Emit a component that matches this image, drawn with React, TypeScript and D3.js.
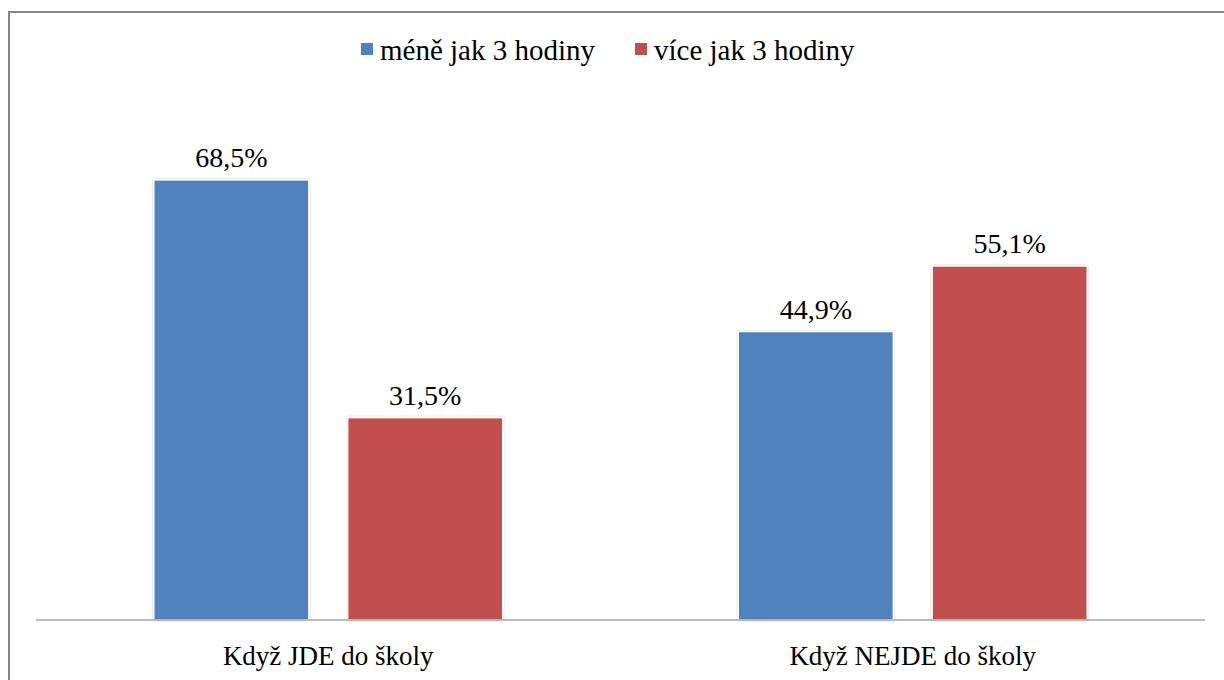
import React, { useEffect, useRef } from "react";
import * as d3 from "d3";

const categories = ["Když JDE do školy", "Když NEJDE do školy"];
const seriesNames = ["méně jak 3 hodiny", "více jak 3 hodiny"];
const lessThan3 = [68.5, 44.9];
const moreThan3 = [31.5, 55.1];
const colors = ["#4F81BD", "#C0504D"];

const W = 1224;
const H = 680;
const margin = { top: 106, right: 19, bottom: 60, left: 36 };

const App = () => {
  const ref = useRef<SVGSVGElement | null>(null);

  useEffect(() => {
    const svg = d3.select(ref.current);
    svg.selectAll("*").remove();

    const font = "Liberation Serif, Times New Roman, Times, DejaVu Serif, serif";
    const innerH = H - margin.top - margin.bottom;

    // frame
    svg
      .append("rect")
      .attr("x", 9)
      .attr("y", 12)
      .attr("width", W + 10)
      .attr("height", H + 10)
      .attr("fill", "#fff")
      .attr("stroke", "#868686")
      .attr("stroke-width", 2);

    const defs = svg.append("defs");
    const f = defs
      .append("filter")
      .attr("id", "shadow")
      .attr("x", "-10%")
      .attr("y", "-10%")
      .attr("width", "120%")
      .attr("height", "120%");
    f.append("feDropShadow")
      .attr("dx", 0)
      .attr("dy", 0)
      .attr("stdDeviation", 1.2)
      .attr("flood-color", "#000")
      .attr("flood-opacity", 0.25);

    const g = svg
      .append("g")
      .attr("transform", `translate(${margin.left},${margin.top})`);

    const x0 = d3
      .scaleBand()
      .domain(categories)
      .range([0, W - margin.left - margin.right]);

    const x1 = d3
      .scaleBand()
      .domain(seriesNames)
      .range([0, 349])
      .paddingInner(0.2);

    const y = d3.scaleLinear().domain([0, 80]).range([innerH, 0]);

    const rows = categories.map((c, i) => ({
      cat: c,
      vals: [lessThan3[i], moreThan3[i]],
    }));

    const groups = g
      .selectAll(".grp")
      .data(rows)
      .enter()
      .append("g")
      .attr(
        "transform",
        (d) => `translate(${x0(d.cat)! + x0.bandwidth() / 2 - 349 / 2},0)`
      );

    groups
      .selectAll("rect")
      .data((d) => d.vals.map((v, j) => ({ v, j })))
      .enter()
      .append("rect")
      .attr("x", (d) => x1(seriesNames[d.j])!)
      .attr("y", (d) => y(d.v))
      .attr("width", x1.bandwidth())
      .attr("height", (d) => innerH - y(d.v))
      .attr("fill", (d) => colors[d.j])
      .attr("stroke", "#fff")
      .attr("stroke-width", 1.5)
      .attr("filter", "url(#shadow)");

    groups
      .selectAll("text")
      .data((d) => d.vals.map((v, j) => ({ v, j })))
      .enter()
      .append("text")
      .attr("x", (d) => x1(seriesNames[d.j])! + x1.bandwidth() / 2)
      .attr("y", (d) => y(d.v) - 13)
      .attr("text-anchor", "middle")
      .attr("font-family", font)
      .attr("font-size", 28)
      .attr("fill", "#000")
      .text((d) => d.v.toFixed(1).replace(".", ",") + "%");

    // baseline
    g.append("line")
      .attr("x1", 0)
      .attr("x2", x0.range()[1])
      .attr("y1", innerH)
      .attr("y2", innerH)
      .attr("stroke", "#a6a6a6")
      .attr("stroke-width", 1.5);

    // category labels
    g.selectAll(".cat")
      .data(categories)
      .enter()
      .append("text")
      .attr("x", (d) => x0(d)! + x0.bandwidth() / 2)
      .attr("y", innerH + 45)
      .attr("text-anchor", "middle")
      .attr("font-family", font)
      .attr("font-size", 27)
      .attr("fill", "#000")
      .text((d) => d);

    // legend
    const legendX = [361, 635];
    const leg = svg
      .selectAll(".leg")
      .data(seriesNames)
      .enter()
      .append("g")
      .attr("transform", (d, i) => `translate(${legendX[i]},43)`);
    leg
      .append("rect")
      .attr("width", 12)
      .attr("height", 12)
      .attr("fill", (d, i) => colors[i]);
    leg
      .append("text")
      .attr("x", 19)
      .attr("y", 17)
      .attr("font-family", font)
      .attr("font-size", 29)
      .attr("fill", "#000")
      .text((d) => d);
  }, []);

  return (
    <svg
      ref={ref}
      width={W}
      height={H}
      style={{ position: "absolute", left: 0, top: 0, background: "#fff" }}
    />
  );
};

export default App;
